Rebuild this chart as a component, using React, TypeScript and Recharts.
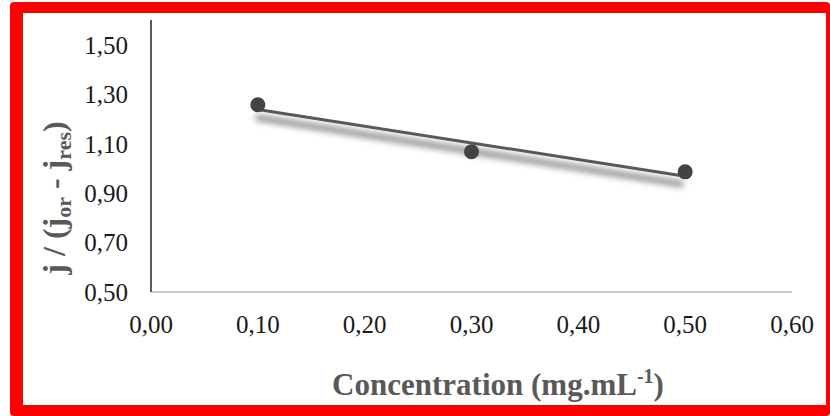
import React from 'react';
import { ComposedChart, Line, Scatter, XAxis, YAxis } from 'recharts';

const concentration = [0.1, 0.3, 0.5];
const ratio = [1.257, 1.067, 0.986];
const trendX = [0.1, 0.5];
const trendY = [1.238, 0.968];
const xTicks = [0, 0.1, 0.2, 0.3, 0.4, 0.5, 0.6];
const yTicks = [0.5, 0.7, 0.9, 1.1, 1.3, 1.5];
const xTitle = 'Concentration (mg.mL';
const xTitleSup = '-1';
const xTitleEnd = ')';

const points = concentration.map((x, i) => ({ x, y: ratio[i] }));
const trend = trendX.map((x, i) => ({ x, y: trendY[i] }));

const SERIF = 'Liberation Serif, Times New Roman, serif';
const fmt = (v: number) => v.toFixed(2).replace('.', ',');

const XTick = (props: any) => {
  const { x, y, payload } = props;
  return (
    <text x={x} y={y} dy="0.71em" textAnchor="middle" fontFamily={SERIF} fontSize={25} fill="#1a1a1a">
      {fmt(payload.value)}
    </text>
  );
};

const YTick = (props: any) => {
  const { x, y, payload } = props;
  return (
    <text x={x} y={y} dy="0.355em" textAnchor="end" fontFamily={SERIF} fontSize={25} fill="#1a1a1a">
      {fmt(payload.value)}
    </text>
  );
};

const YLabel = () => (
  <text
    x={65}
    y={198}
    transform="rotate(-90 65 198)"
    textAnchor="middle"
    fontFamily={SERIF}
    fontWeight="bold"
    fontSize={32}
    fill="#595959"
  >
    <tspan>j / (j</tspan>
    <tspan fontSize={22} dy={6}>or</tspan>
    <tspan dy={-6}> - j</tspan>
    <tspan fontSize={22} dy={6}>res</tspan>
    <tspan dy={-6}>)</tspan>
  </text>
);

const XLabel = () => (
  <text
    x={498}
    y={395}
    textAnchor="middle"
    fontFamily={SERIF}
    fontWeight="bold"
    fontSize={31}
    fill="#595959"
  >
    <tspan>{xTitle}</tspan>
    <tspan fontSize={20} dy={-12}>{xTitleSup}</tspan>
    <tspan dy={12}>{xTitleEnd}</tspan>
  </text>
);

const Dot = (props: any) => {
  const { cx, cy } = props;
  return <circle cx={cx} cy={cy} r={7.5} fill="#434343" />;
};

export default function App() {
  return (
    <div style={{ position: 'absolute', left: 0, top: 0, width: 830, height: 416, overflow: 'hidden', background: '#fff', fontFamily: SERIF }}>
      <div
        style={{
          position: 'absolute',
          left: 10,
          top: 2,
          width: 820,
          height: 414,
          boxSizing: 'border-box',
          borderStyle: 'solid',
          borderColor: '#ff0000',
          borderWidth: '11px 4px 11px 13px',
          borderRadius: 4,
          background: '#fff',
        }}
      />
      <div style={{ position: 'absolute', left: 0, top: 0 }}>
        <ComposedChart width={830} height={416} margin={{ top: 20, right: 38, left: 0, bottom: 0 }}>
          <defs>
            <filter id="trendShadow" x="-10%" y="-300%" width="120%" height="700%">
              <feGaussianBlur in="SourceGraphic" stdDeviation="3" result="b" />
              <feOffset in="b" dx="-2" dy="8" />
            </filter>
          </defs>
          <XAxis
            type="number"
            dataKey="x"
            domain={[0, 0.6]}
            ticks={xTicks}
            height={124}
            tickSize={0}
            tickMargin={23}
            axisLine={{ stroke: '#c8c8c8', strokeWidth: 2 }}
            tick={<XTick />}
            interval={0}
            allowDataOverflow
            label={<XLabel />}
          />
          <YAxis
            type="number"
            dataKey="y"
            domain={[0.5, 1.6]}
            ticks={yTicks}
            width={151}
            tickSize={0}
            tickMargin={23}
            axisLine={{ stroke: '#262626', strokeWidth: 1.5 }}
            tick={<YTick />}
            interval={0}
            allowDataOverflow
            label={<YLabel />}
          />
          <Line
            data={trend}
            dataKey="y"
            stroke="#8c8c8c"
            strokeWidth={6}
            dot={false}
            activeDot={false}
            isAnimationActive={false}
            filter="url(#trendShadow)"
            legendType="none"
          />
          <Line
            data={trend}
            dataKey="y"
            stroke="#595959"
            strokeWidth={3}
            dot={false}
            activeDot={false}
            isAnimationActive={false}
            legendType="none"
          />
          <Scatter data={points} dataKey="y" shape={<Dot />} isAnimationActive={false} />
        </ComposedChart>
      </div>
    </div>
  );
}
